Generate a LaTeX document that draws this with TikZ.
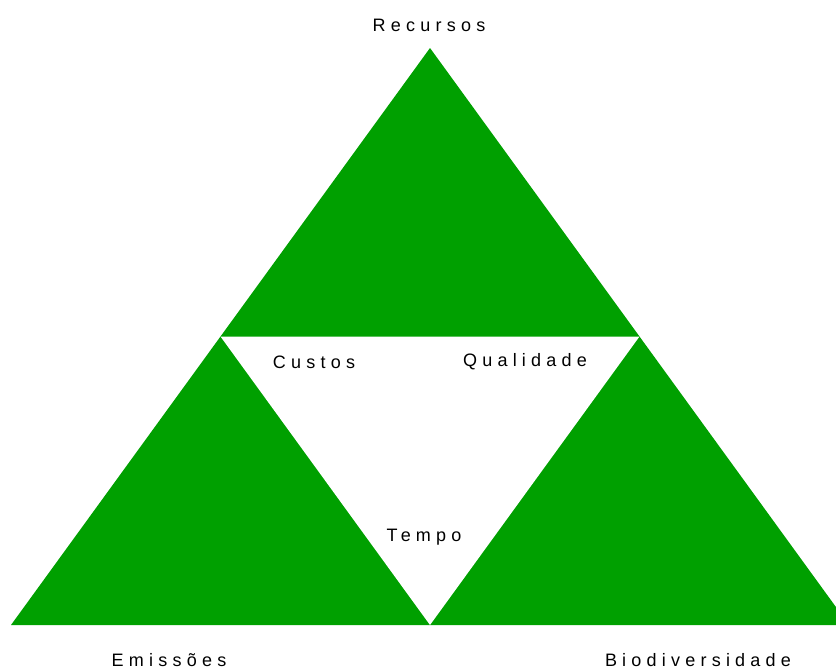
\documentclass[tikz,border=0pt]{standalone}
\usepackage{fontspec}
\setmainfont{Liberation Sans}
\newfontfamily\spaced[LetterSpace=29]{Liberation Sans}
\usetikzlibrary{calc}
\definecolor{verde}{RGB}{0,160,0}

\begin{document}
\begin{tikzpicture}[x=0.75pt, y=-0.75pt,
    rotulo/.style={font=\spaced\fontsize{13.5}{16}\selectfont}]
  \useasboundingbox (0,0) rectangle (836,671);
  \clip (0,0) rectangle (836,671);
  \coordinate (T) at (430, 48);
  \coordinate (L) at (11, 625);
  \coordinate (R) at (849, 625);

  \fill[verde] (T) -- (L) -- (R) -- cycle;
  % triangulo central
  \fill[white] ($(T)!0.5!(L)$) -- ($(T)!0.5!(R)$) -- ($(L)!0.5!(R)$) -- cycle;

  \node[rotulo] (rec) at (429, 25)  {Recursos};
  \node[rotulo] (cus) at (314, 362) {Custos};
  \node[rotulo] (qua) at (525, 362) {Qualidade};
  \node[rotulo] (tem) at (424, 537) {Tempo};
  \node[rotulo] (emi) at (169, 660) {Emissões};
  \node[rotulo] (bio) at (698, 660) {Biodiversidade};
\end{tikzpicture}
\end{document}
